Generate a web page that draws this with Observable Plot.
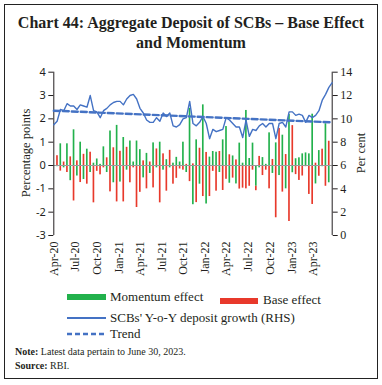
<!DOCTYPE html>
<html><head><meta charset="utf-8">
<script src="https://cdn.jsdelivr.net/npm/d3@7"></script>
<script src="https://cdn.jsdelivr.net/npm/@observablehq/plot@0.6"></script>
<style>
body{margin:0;background:#fff;}
#wrap{position:relative;width:382px;height:385px;overflow:hidden;font-family:"Liberation Serif",serif;color:#231f20;}
#frame{position:absolute;left:4px;top:4px;width:372px;height:373px;border:1px solid #222;}
#title{position:absolute;left:5px;top:13px;width:372px;text-align:center;font-weight:bold;font-size:16px;line-height:20px;}
#chart{position:absolute;left:0;top:55px;}
.t{position:absolute;white-space:nowrap;line-height:1;}
.rot{position:absolute;white-space:nowrap;transform:translate(-50%,-50%) rotate(-90deg);font-size:12.5px;line-height:1;}
.sw{position:absolute;}
</style></head>
<body>
<div id="wrap">
  <div id="frame"></div>
  <div id="title">Chart 44: Aggregate Deposit of SCBs – Base Effect<br>and Momentum</div>
  <div id="chart"></div>
  <div class="rot" style="left:26px;top:153px;">Percentage points</div>
  <div class="rot" style="left:361px;top:153px;">Per cent</div>
  <div class="sw" style="left:67px;top:294px;width:39px;height:6px;background:#22b14c;"></div>
  <div class="t" style="left:110px;top:290px;font-size:13px;">Momentum effect</div>
  <div class="sw" style="left:220px;top:298px;width:38px;height:6px;background:#e8392b;"></div>
  <div class="t" style="left:263px;top:293px;font-size:13px;">Base effect</div>
  <div class="sw" style="left:67px;top:317px;width:39px;height:2px;background:#4472c4;"></div>
  <div class="t" style="left:110px;top:311px;font-size:13px;">SCBs' Y-o-Y deposit growth (RHS)</div>
  <svg class="sw" style="left:67px;top:332px;" width="40" height="4"><line x1="0" x2="40" y1="2" y2="2" stroke="#4472c4" stroke-width="2.5" stroke-dasharray="5,3"/></svg>
  <div class="t" style="left:110px;top:327px;font-size:13px;">Trend</div>
  <div class="t" style="left:15px;top:347px;font-size:10px;"><b>Note:</b> Latest data pertain to June 30, 2023.</div>
  <div class="t" style="left:15px;top:361px;font-size:10px;"><b>Source:</b> RBI.</div>
</div>
<script>
// Fortnightly reporting dates start
const startDate = new Date(2020, 3, 10);
// SCBs' Y-o-Y deposit growth (per cent, RHS)
const growth = [9.5,9.8,10.8,10.7,11.3,11.1,11.1,10.8,11.2,11.1,11.0,12.0,10.7,10.6,10.1,10.7,10.9,11.2,11.4,11.5,
  11.5,11.2,11.7,12.0,12.1,11.7,10.9,10.5,9.9,9.7,9.7,10.1,9.8,10.5,10.2,10.5,9.4,9.3,9.5,10.0,
  10.1,11.5,9.6,9.4,9.7,10.2,9.6,8.3,9.1,8.9,9.0,9.1,10.1,9.9,9.6,9.3,9.3,8.4,9.9,8.5,
  9.1,9.0,9.4,9.6,9.3,9.6,9.6,8.3,9.6,9.7,9.3,10.6,10.6,10.3,10.4,10.3,9.7,10.3,10.1,10.3,
  10.7,11.6,12.1,12.7,13.1];
// Momentum effect (percentage points)
const momentum = [-0.05,0.93,-0.1,0.93,-0.65,1.53,-0.45,1.0,-0.6,0.7,-0.3,0.1,0.28,0.05,0.8,-0.3,1.48,-0.74,1.72,-0.71,
  1.2,-0.2,1.05,0.15,1.05,0.68,-0.53,0.52,-0.34,0.97,-0.1,1.0,-0.2,0.25,-0.1,0.1,0.35,0.15,1.0,-0.3,
  2.45,-1.68,1.1,-0.8,2.6,-1.65,0.36,0.6,0.57,-0.3,1.1,1.67,-0.76,0.41,-0.79,0.96,0.1,2.36,0.3,0.96,
  -0.89,-0.1,0.34,0.05,1.4,-0.34,0.97,-0.43,1.3,-1.0,2.19,-0.31,0.29,0.33,0.5,0.54,0.5,2.2,-0.79,0.64,
  -0.05,1.79,-0.74];
// Base effect (percentage points)
const base = [0.42,-0.24,0.15,-0.3,0.37,-1.52,0.2,-0.73,0.48,-0.8,0.57,-1.6,-0.25,-0.4,-0.1,0.33,-1.13,0.76,-1.56,0.61,
  -1.56,0.78,-0.74,-0.1,-1.8,-1.15,0.2,-1.0,0.15,-0.96,0.71,-1.6,0.5,-1.1,0.65,-0.8,-0.55,-0.15,-0.2,0.05,
  -0.69,0.07,-1.59,0.74,-1.33,0.56,-1.33,-0.25,-1.1,0.6,-1.07,-0.59,0.46,-0.54,0.24,-1.01,-0.97,-1.0,-0.89,-0.2,
  -0.19,0.39,-0.43,-0.2,-1.0,0.26,-2.24,1.59,-1.14,0.47,-2.4,1.71,-0.39,-0.64,-0.45,-0.05,-1.24,-1.67,0.1,-0.46,
  0.7,-0.89,1.04];
// Linear trend of growth (per cent), start and end
const trend = [10.7, 9.7];
// x tick dates (labels formatted as Mon-YY)
const tickDates = ["2020-04-10","2020-07-10","2020-10-10","2021-01-10","2021-04-10","2021-07-10","2021-10-10",
  "2022-01-10","2022-04-10","2022-07-10","2022-10-10","2023-01-10","2023-04-10"];

const dates = growth.map((_, i) => d3.timeDay.offset(startDate, 14 * i));
const toLeft = r => (r - 6) / 2;
const bars = [];
momentum.forEach((m, i) => {
  const d = dates[i + 1];
  const b = base[i];
  const x1 = d3.timeDay.offset(d, -1.5), x2 = d3.timeDay.offset(d, 5.5);
  bars.push({x1, x2, y1: 0, y2: m, kind: "m"});
  const s = (b >= 0) === (m >= 0) ? m : 0;
  bars.push({x1, x2, y1: s, y2: s + b, kind: "b"});
});
const lineData = growth.map((g, i) => ({date: dates[i], v: toLeft(g)}));
const trendData = [{date: dates[0], v: toLeft(trend[0])}, {date: dates[dates.length - 1], v: toLeft(trend[1])}];
const ticks = tickDates.map(s => { const [y, m, d] = s.split("-").map(Number); return new Date(y, m - 1, d); });

const chart = Plot.plot({
  width: 382, height: 230,
  marginTop: 16.7, marginBottom: 50, marginLeft: 53.3, marginRight: 50.3,
  style: {fontFamily: "Liberation Serif, serif", fontSize: "12px", color: "#231f20", background: "transparent"},
  x: {type: "time", domain: [dates[0], dates[dates.length - 1]]},
  y: {domain: [-3, 4]},
  marks: [
    Plot.rect(bars, {x1: "x1", x2: "x2", y1: "y1", y2: "y2", fill: d => d.kind === "m" ? "#22b14c" : "#e8392b"}),
    Plot.ruleY([0], {stroke: "#9a9a9a", strokeWidth: 1}),
    Plot.ruleX([dates[0]], {y1: -3, y2: 4, stroke: "#231f20"}),
    Plot.ruleX([dates[dates.length - 1]], {y1: -3, y2: 4, stroke: "#231f20"}),
    Plot.line(trendData, {x: "date", y: "v", stroke: "#4472c4", strokeWidth: 2.4, strokeDasharray: "6,3"}),
    Plot.line(lineData, {x: "date", y: "v", stroke: "#4472c4", strokeWidth: 1.4}),
    Plot.axisY({anchor: "left", ticks: d3.range(-3, 5), tickSize: 5, tickPadding: 3, label: null,
      tickFormat: d => String(d), fontFamily: "Noto Sans, sans-serif", fontSize: 11}),
    Plot.axisY({anchor: "right", ticks: d3.range(-3, 5), tickSize: 5, tickPadding: 3, label: null,
      tickFormat: d => String(2 * d + 6), fontSize: 12}),
    Plot.axisX({ticks, tickRotate: -90, tickSize: 0, tickPadding: 6, label: null,
      tickFormat: d3.timeFormat("%b-%y"), fontSize: 12})
  ]
});
document.getElementById("chart").appendChild(chart);
</script>
</body></html>
